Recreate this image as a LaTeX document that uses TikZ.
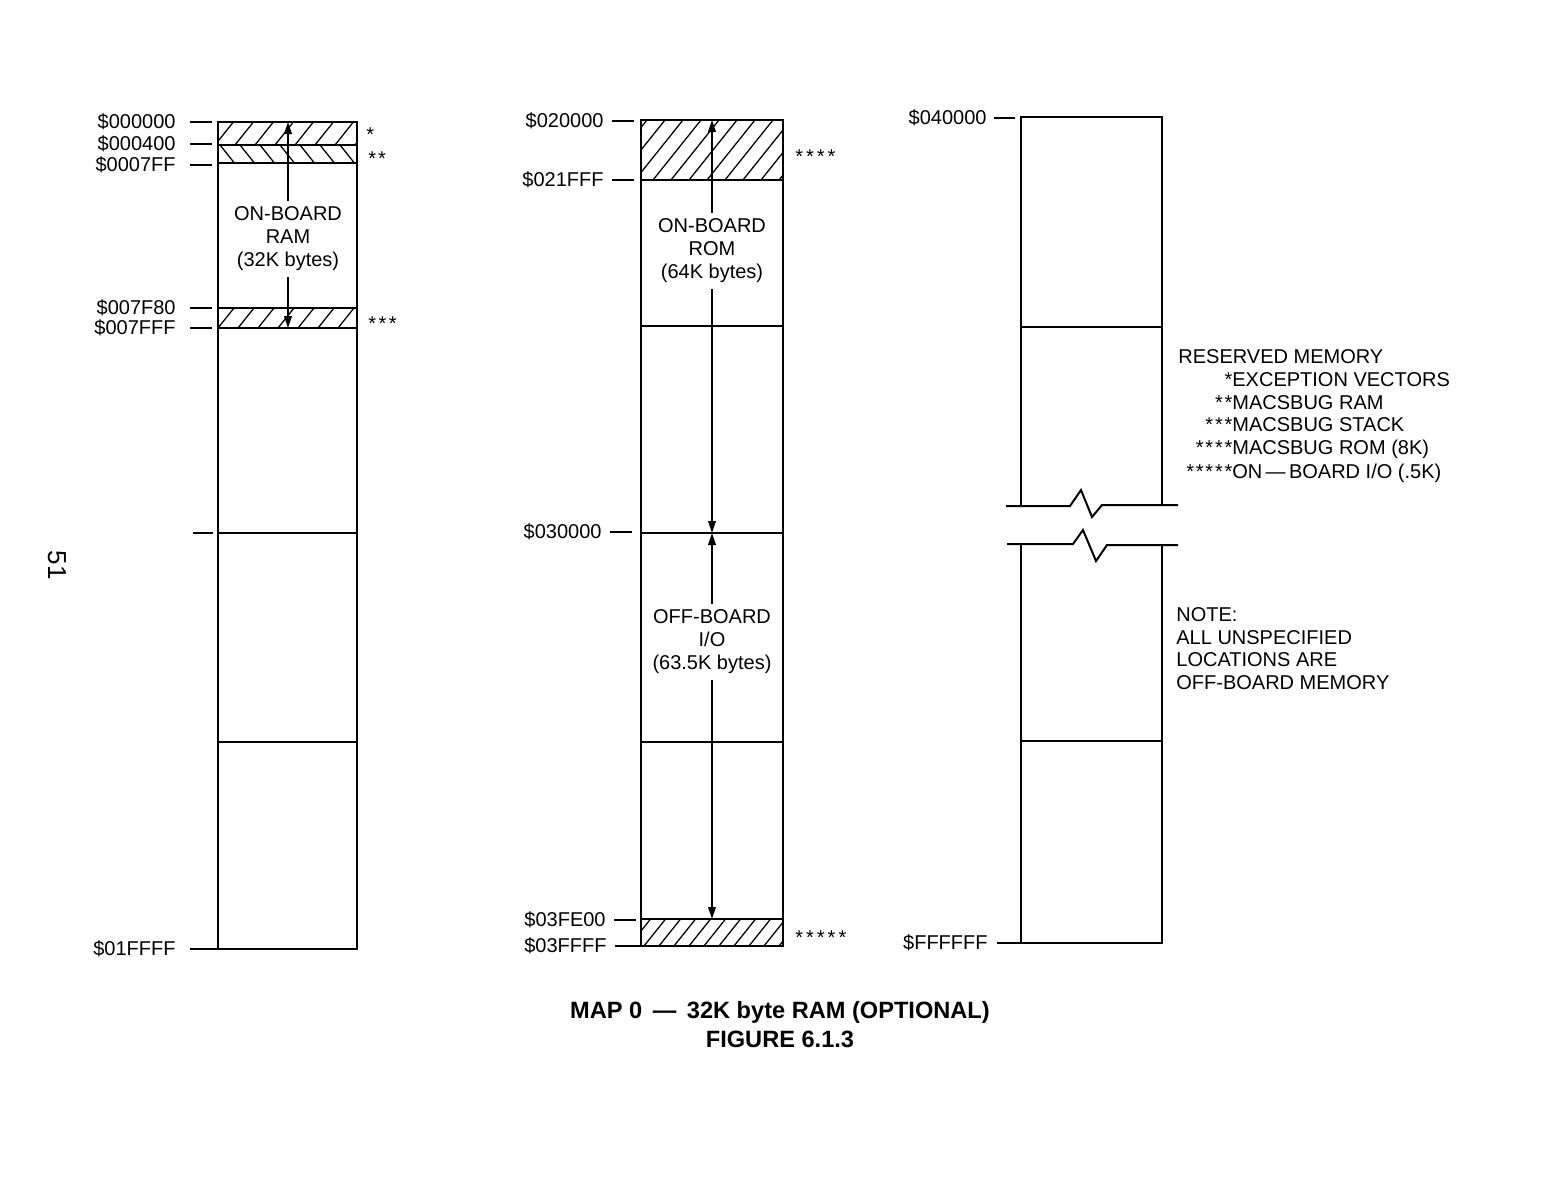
\documentclass[tikz,border=0pt]{standalone}
\usepackage{fontspec}
\setmainfont{Liberation Sans}
\usetikzlibrary{arrows.meta}
\newcommand\hatchband[6]{% x1,y1,x2,y2,spacing,dir (1 = /, 0 = \)
  \begin{scope}
    \clip (#1,#2) rectangle (#3,#4);
    \foreach \k in {0,...,40}{
      \pgfmathsetmacro\hx{#1-(#4-#2)+\k*#5}
      \ifnum#6=1
        \draw[hatchline] (\hx,#4) -- ++({0.8*(#4-#2)},{-(#4-#2)});
      \else
        \draw[hatchline] (\hx,#2) -- ++({0.8*(#4-#2)},{(#4-#2)});
      \fi
    }
  \end{scope}}
\newcommand\sk{\kern0.9pt}
\begin{document}
\begin{tikzpicture}[x=0.5pt,y=-0.5pt,
  box/.style={line width=1pt},
  hatchline/.style={line width=0.65pt},
  addr/.style={anchor=east,inner sep=0pt,font=\fontsize{10}{12}\selectfont},
  ticklin/.style={line width=1pt},
  region/.style={align=center,inner sep=3pt,font=\fontsize{10}{11.5}\selectfont},
  memarrow/.style={line width=1pt,-{Triangle[length=6pt,width=3.8pt]}},
  starlbl/.style={anchor=base west,inner sep=0pt,font=\fontsize{10}{12}\selectfont},
  note/.style={anchor=base west,inner sep=0pt,font=\fontsize{10}{12}\selectfont},
  caption/.style={inner sep=0pt,font=\bfseries\fontsize{11.8}{14}\selectfont},
  ]
\useasboundingbox (0,0) rectangle (1549,1200);

% ---------------- left column ----------------
\hatchband{218}{122}{357}{145}{20}{1}
\hatchband{218}{145}{357}{163}{20}{0}
\hatchband{218}{308}{357}{328}{20}{1}
\draw[box] (218,122) rectangle (357,949);
\foreach \yy in {145,163,308,328,533,742} \draw[box] (218,\yy) -- (357,\yy);

\node[addr] (a0) at (176,122) {\$000000};
\node[addr] (a1) at (176,144) {\$000400};
\node[addr] (a2) at (176,165) {\$0007FF};
\node[addr] (a3) at (176,308) {\$007F80};
\node[addr] (a4) at (176,328) {\$007FFF};
\node[addr] (a5) at (176,949) {\$01FFFF};
\foreach \n in {a0,a1,a2,a3,a4}
  \draw[ticklin] ([xshift=7pt]\n.east) -- ([xshift=18pt]\n.east);
\draw[ticklin] ([xshift=7pt]a5.east) -- ([xshift=21pt]a5.east);
\draw[ticklin] (193,533) -- (213,533);

\coordinate (Ltop) at (288,122);
\coordinate (Lbot) at (288,328);
\node[region] (ram) at (288,239) {ON-BOARD\\RAM\\(32K bytes)};
\draw[memarrow] (ram.north) -- (Ltop);
\draw[memarrow] (ram.south) -- (Lbot);

\node[starlbl] (s1) at (366,141) {*};
\node[starlbl] (s2) at (368,165) {*\kern1pt*};
\node[starlbl] (s3) at (368,330) {*\kern1.2pt*\kern1.2pt*};

% ---------------- middle column ----------------
\hatchband{641}{120}{783}{180}{18}{1}
\hatchband{641}{919}{783}{946}{15}{1}
\draw[box] (641,120) rectangle (783,946);
\foreach \yy in {180,326,533,742,919} \draw[box] (641,\yy) -- (783,\yy);

\node[addr] (b0) at (604,121) {\$020000};
\node[addr] (b1) at (604,180) {\$021FFF};
\node[addr] (b2) at (602,532) {\$030000};
\node[addr] (b3) at (606,920) {\$03FE00};
\node[addr] (b4) at (607,946) {\$03FFFF};
\foreach \n in {b0,b1,b2,b3}
  \draw[ticklin] ([xshift=4pt]\n.east) -- ([xshift=15pt]\n.east);
\draw[ticklin] ([xshift=4pt]b4.east) -- ([xshift=17pt]b4.east);

\coordinate (Mtop) at (712,120);
\coordinate (Mmid) at (712,533);
\coordinate (Mbot) at (712,919);
\node[region] (rom) at (712,251) {ON-BOARD\\ROM\\(64K bytes)};
\node[region] (offio) at (712,642) {OFF-BOARD\\I/O\\(63.5K bytes)};
\draw[memarrow] (rom.north) -- (Mtop);
\draw[memarrow] (rom.south) -- (Mmid);
\draw[memarrow] (offio.north) -- (Mmid);
\draw[memarrow] (offio.south) -- (Mbot);

\node[starlbl] (s4) at (795,163) {*\kern1.5pt*\kern1.5pt*\kern1.5pt*};
\node[starlbl] (s5) at (795,944) {*\kern1.5pt*\kern1.5pt*\kern1.5pt*\kern1.5pt*};

% ---------------- right column ----------------
\draw[box] (1021,506) -- (1021,117) -- (1162,117) -- (1162,506);
\draw[box] (1021,327) -- (1162,327);
\draw[box] (1006,506) -- (1070,506) -- (1081,490) -- (1092,517) -- (1102,505) -- (1178,505);
\draw[box] (1007,544) -- (1073,544) -- (1083,530) -- (1096,561) -- (1107,545) -- (1178,545);
\draw[box] (1021,544) -- (1021,943) -- (1162,943) -- (1162,544);
\draw[box] (1021,741) -- (1162,741);

\node[addr] (c0) at (987,118) {\$040000};
\node[addr] (c1) at (988,943) {\$FFFFFF};
\draw[ticklin] ([xshift=3.5pt]c0.east) -- ([xshift=14pt]c0.east);
\draw[ticklin] ([xshift=4.5pt]c1.east) -- ([xshift=16.5pt]c1.east);

\node[note] (r0) at (1178,363) {RESERVED MEMORY};
\node[note] (r1) at (1232,386) {\llap{*}EXCEPTION VECTORS};
\node[note] (r2) at (1232,409) {\llap{*\sk*}MACSBUG RAM};
\node[note] (r3) at (1232,431) {\llap{*\sk*\sk*}MACSBUG STACK};
\node[note] (r4) at (1232,454) {\llap{*\sk*\sk*\sk*}MACSBUG ROM (8K)};
\node[note] (r5) at (1232,478) {\llap{*\sk*\sk*\sk*\sk*}ON\,—\,BOARD I/O (.5K)};

\node[note] (n0) at (1176,621) {NOTE:};
\node[note] (n1) at (1176,644) {ALL UNSPECIFIED};
\node[note] (n2) at (1176,666) {LOCATIONS ARE};
\node[note] (n3) at (1176,689) {OFF-BOARD MEMORY};

% ---------------- caption and page number ----------------
\node[caption] (cap1) at (780,1012) {MAP 0 \,—\, 32K byte RAM (OPTIONAL)};
\node[caption] (cap2) at (780,1039) {FIGURE 6.1.3};
\node[rotate=-90,inner sep=0pt,font=\fontsize{13}{15}\selectfont] (pg) at (57,565) {51};
\end{tikzpicture}
\end{document}
